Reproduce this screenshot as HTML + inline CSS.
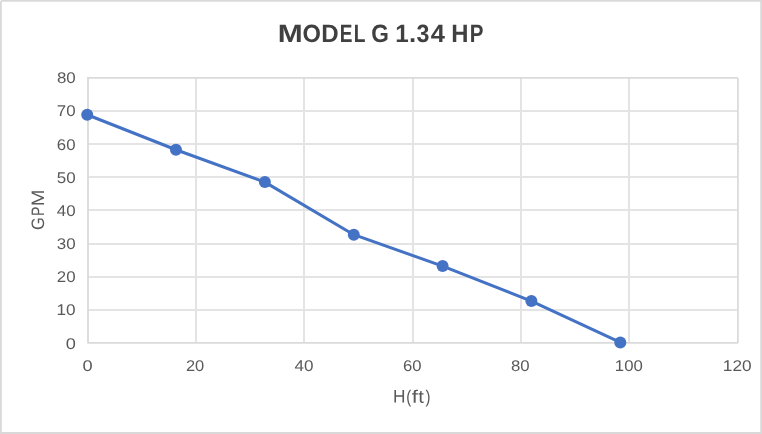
<!DOCTYPE html>
<html>
<head>
<meta charset="utf-8">
<title>MODEL G 1.34 HP</title>
<style>
html,body{margin:0;padding:0;background:#fff;}
body{width:762px;height:434px;overflow:hidden;}
svg{display:block;}
text{font-family:"Liberation Sans",sans-serif;fill:#595959;text-rendering:geometricPrecision;}
.ti text{fill:#404040;font-size:25px;font-weight:bold;}
.lb text{font-size:15.5px;}
.ht text{font-size:18px;}
.gp text{font-size:18px;}
</style>
</head>
<body>
<svg width="762" height="434" viewBox="0 0 762 434">
<rect x="0" y="0" width="762" height="434" fill="#ffffff"/>
<g fill="#d9d9d9">
<rect x="0" y="0" width="762" height="1.7"/>
<rect x="0" y="432" width="762" height="2"/>
<rect x="0" y="0" width="1.8" height="434"/>
<rect x="760.25" y="0" width="1.75" height="434"/>
</g>
<rect x="0" y="0" width="1" height="1" fill="#ffffff"/>
<path d="M88 110H737V112H88ZM88 143H737V145H88ZM88 176H737V178H88ZM88 209H737V211H88ZM88 243H737V245H88ZM88 276H737V278H88ZM88 309H737V311H88ZM195 78H197V342H195ZM303 78H305V342H303ZM412 78H414V342H412ZM520 78H522V342H520ZM628 78H630V342H628Z" fill="#e4e4e4" shape-rendering="crispEdges"/>
<g stroke="#d9d9d9" stroke-width="1.3" fill="none">
<path d="M87.35 77.8H737.87"/>
<path d="M87.35 77.8H737.87"/>
<path d="M737.87 78.2V342.7"/>
<path d="M737.87 78.2V342.7"/>
<path d="M87.35 342.85H737.87"/>
<path d="M87.35 342.85H737.87"/>
<path d="M88.0 77.15V342.3"/>
<path d="M88.0 77.15V342.3"/>
</g>
<polyline points="87.2,114.75 175.95,149.75 264.9,182.1 353.8,234.7 442.6,266.1 531.4,301.1 620.3,342.45" fill="none" stroke="#4472c4" stroke-width="3" stroke-linecap="round" stroke-linejoin="round"/>
<g fill="#4472c4">
<circle cx="87.2" cy="114.75" r="6"/>
<circle cx="175.95" cy="149.75" r="6"/>
<circle cx="264.9" cy="182.1" r="6"/>
<circle cx="353.8" cy="234.7" r="6"/>
<circle cx="442.6" cy="266.1" r="6"/>
<circle cx="531.4" cy="301.1" r="6"/>
<circle cx="620.3" cy="342.45" r="6"/>
</g>
<g class="ti">
<text y="42"><tspan x="277.87" textLength="24.93" lengthAdjust="spacingAndGlyphs">M</tspan><tspan x="302.46" textLength="18.41" lengthAdjust="spacingAndGlyphs">O</tspan><tspan x="321.24" textLength="17.39" lengthAdjust="spacingAndGlyphs">D</tspan><tspan x="339.63" textLength="12.70" lengthAdjust="spacingAndGlyphs">E</tspan><tspan x="353.83" textLength="11.35" lengthAdjust="spacingAndGlyphs">L</tspan> <tspan x="371.18" textLength="17.62" lengthAdjust="spacingAndGlyphs">G</tspan> <tspan x="395.15" textLength="13.48" lengthAdjust="spacingAndGlyphs">1</tspan><tspan x="409.00" textLength="7.17" lengthAdjust="spacingAndGlyphs">.</tspan><tspan x="416.49" textLength="12.91" lengthAdjust="spacingAndGlyphs">3</tspan><tspan x="430.74" textLength="14.18" lengthAdjust="spacingAndGlyphs">4</tspan> <tspan x="451.15" textLength="17.21" lengthAdjust="spacingAndGlyphs">H</tspan><tspan x="469.82" textLength="13.70" lengthAdjust="spacingAndGlyphs">P</tspan></text>
</g>
<g class="lb">
<text x="56.92" y="83" textLength="18.81" lengthAdjust="spacingAndGlyphs">80</text>
<text x="56.77" y="116" textLength="18.74" lengthAdjust="spacingAndGlyphs">70</text>
<text x="56.88" y="150" textLength="18.63" lengthAdjust="spacingAndGlyphs">60</text>
<text x="56.74" y="183" textLength="18.89" lengthAdjust="spacingAndGlyphs">50</text>
<text x="56.74" y="216" textLength="18.81" lengthAdjust="spacingAndGlyphs">40</text>
<text x="56.83" y="249" textLength="18.80" lengthAdjust="spacingAndGlyphs">30</text>
<text x="56.84" y="282" textLength="18.80" lengthAdjust="spacingAndGlyphs">20</text>
<text x="56.56" y="315" textLength="19.11" lengthAdjust="spacingAndGlyphs">10</text>
<text x="65.69" y="349" textLength="10.11" lengthAdjust="spacingAndGlyphs">0</text>
</g>
<g class="lb">
<text x="82.53" y="371" textLength="10.12" lengthAdjust="spacingAndGlyphs">0</text>
<text x="185.95" y="371" textLength="18.32" lengthAdjust="spacingAndGlyphs">20</text>
<text x="294.53" y="371" textLength="18.98" lengthAdjust="spacingAndGlyphs">40</text>
<text x="402.92" y="371" textLength="18.52" lengthAdjust="spacingAndGlyphs">60</text>
<text x="510.91" y="371" textLength="18.65" lengthAdjust="spacingAndGlyphs">80</text>
<text x="614.83" y="371" textLength="27.92" lengthAdjust="spacingAndGlyphs">100</text>
<text x="722.86" y="371" textLength="28.79" lengthAdjust="spacingAndGlyphs">120</text>
</g>
<g class="ht" transform="rotate(0.05 412 402.65)">
<text y="402.65"><tspan x="392.99" textLength="12.47" lengthAdjust="spacingAndGlyphs">H</tspan><tspan x="406.29" textLength="4.97" lengthAdjust="spacingAndGlyphs">(</tspan><tspan x="411.89" textLength="6.14" lengthAdjust="spacingAndGlyphs">f</tspan><tspan x="418.23" textLength="5.60" lengthAdjust="spacingAndGlyphs">t</tspan><tspan x="425.46" textLength="4.98" lengthAdjust="spacingAndGlyphs">)</tspan></text>
</g>
<g class="gp" transform="translate(44.1,240) rotate(-90)">
<text y="0"><tspan x="9.99" textLength="12.87" lengthAdjust="spacingAndGlyphs">G</tspan><tspan x="24.02" textLength="9.42" lengthAdjust="spacingAndGlyphs">P</tspan><tspan x="33.70" textLength="16.73" lengthAdjust="spacingAndGlyphs">M</tspan></text>
</g>
</svg>
</body>
</html>
